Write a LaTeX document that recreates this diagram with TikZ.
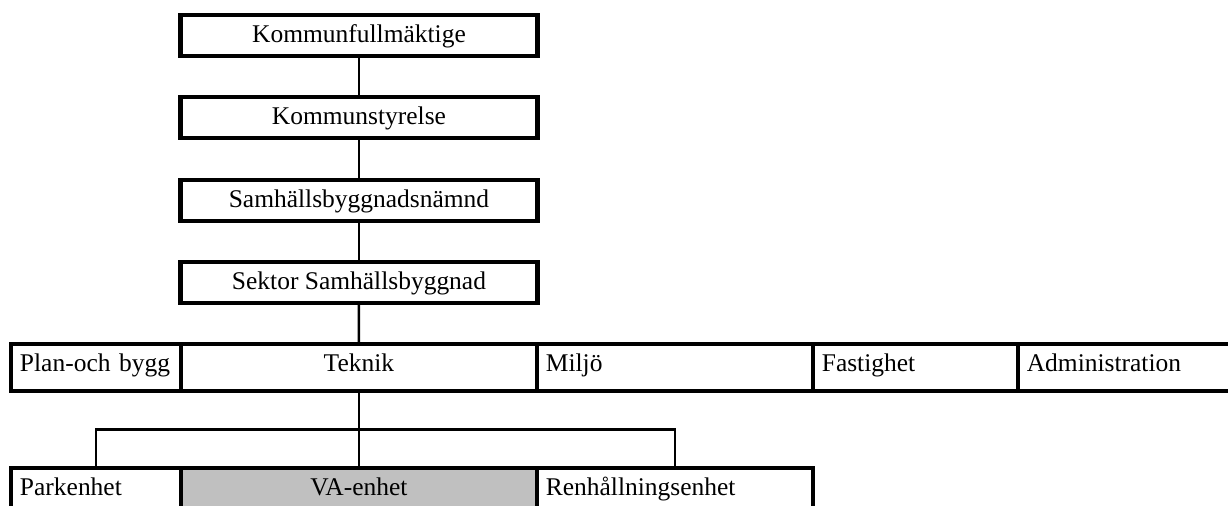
\documentclass[tikz,border=0pt]{standalone}
\usepackage{fontspec}
\setmainfont{Liberation Serif}
\usetikzlibrary{calc}
\definecolor{vagray}{RGB}{192,192,192}
\tikzset{
  box/.style={
    rectangle,
    draw=black,
    line width=0.09cm,
    inner sep=0pt,
    outer sep=0pt,
    font=\fontsize{14.5}{17}\selectfont
  },
  box-top/.style={
    box,
    minimum width=7.14cm,
    minimum height=0.82cm,
    text height=11.5pt,
    text depth=3.5pt
  },
  box-row/.style={
    box,
    minimum height=0.94cm,
    text height=11.5pt,
    text depth=7pt
  },
  box-left/.style={
    box-row,
    inner xsep=0.18cm,
    align=left
  },
  link/.style={line width=0.05cm}
}

\begin{document}
\begin{tikzpicture}[x=0.02cm,y=-0.02cm]
  \path[use as bounding box, clip] (0,0) rectangle (1228,505);
  % Ledning
  \coordinate (T1) at (359,15);
  \coordinate (T2) at (359,97);
  \coordinate (T3) at (359,180);
  \coordinate (T4) at (359,262);
  \node[box-top, anchor=north] (kf) at (T1) {Kommunfullmäktige};
  \node[box-top, anchor=north] (ks) at (T2) {Kommunstyrelse};
  \node[box-top, anchor=north] (sbn) at (T3) {Samhällsbyggnadsnämnd};
  \node[box-top, anchor=north] (sek) at (T4) {Sektor Samhällsbyggnad};
  % Sektorns avdelningar
  \node[box-left, text width=3.04cm, anchor=north west] (plan) at (11,344) {Plan-och bygg};
  \node[box-row, minimum width=7.12cm, anchor=north west] (tek) at (plan.north east) {Teknik};
  \node[box-left, text width=5.16cm, anchor=north west] (milj) at (tek.north east) {Miljö};
  \node[box-left, text width=3.74cm, anchor=north west] (fast) at (milj.north east) {Fastighet};
  \node[box-left, text width=4.08cm, anchor=north west] (adm) at (fast.north east) {Administration};
  % Enheter
  \node[box-left, text width=3.04cm, anchor=north west] (park) at (11,468) {Parkenhet};
  \node[box-row, fill=vagray, minimum width=7.12cm, anchor=north west] (va) at (park.north east) {VA-enhet};
  \node[box-left, text width=5.16cm, anchor=north west] (renh) at (va.north east) {Renhållningsenhet};
  % Linjer
  \draw[link] (kf.south) -- (ks.north);
  \draw[link] (ks.south) -- (sbn.north);
  \draw[link] (sbn.south) -- (sek.north);
  \draw[link] (sek.south) -- (tek.north);
  \draw[link] (tek.south) -- (va.north);
  \draw[link] (park.north) |- ($(tek.south)!0.5!(va.north)$) -| (renh.north);

\end{tikzpicture}
\end{document}
